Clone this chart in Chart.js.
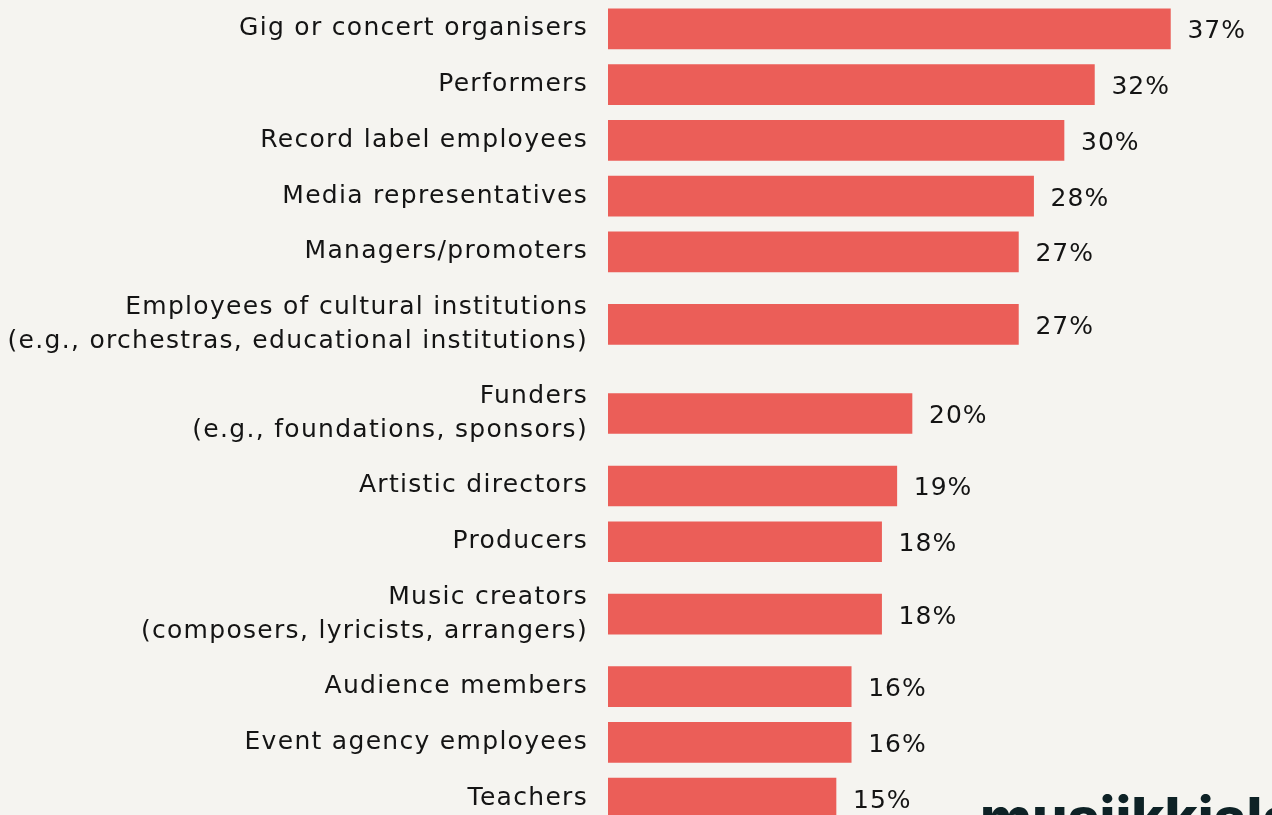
<!DOCTYPE html>
<html>
<head>
<meta charset="utf-8">
<script src="https://cdn.jsdelivr.net/npm/chart.js@4.4.1/dist/chart.umd.min.js"></script>
<style>
  html, body { margin: 0; padding: 0; background: #f5f4f0; overflow: hidden; }
  #wrap { position: relative; width: 1272px; height: 830px; }
</style>
</head>
<body>
<div id="wrap"><canvas id="chart"></canvas></div>
<script>
// Respondent groups (multi-line labels are given as arrays of lines)
const categories = [
  ["Gig or concert organisers"],
  ["Performers"],
  ["Record label employees"],
  ["Media representatives"],
  ["Managers/promoters"],
  ["Employees of cultural institutions", "(e.g., orchestras, educational institutions)"],
  ["Funders", "(e.g., foundations, sponsors)"],
  ["Artistic directors"],
  ["Producers"],
  ["Music creators", "(composers, lyricists, arrangers)"],
  ["Audience members"],
  ["Event agency employees"],
  ["Teachers"]
];

// Share of respondents, %
const shares = [37, 32, 30, 28, 27, 27, 20, 19, 18, 18, 16, 16, 15];

// Row slots: two-line labels get a taller row
const EXTRA_LINE = 0.6;
const rowHeights = categories.map(l => 1 + EXTRA_LINE * (l.length - 1));
const rowCenters = [];
let acc = 0;
rowHeights.forEach(h => { rowCenters.push(acc + h / 2); acc += h; });
const totalRows = acc;

const FONT = "'DejaVu Sans', sans-serif";
const INK = '#141414';

// wide tracking for all chart text
const tracking = {
  id: 'tracking',
  beforeDraw(chart) { chart.ctx.letterSpacing = '1.3px'; }
};

const valueLabels = {
  id: 'valueLabels',
  afterDatasetsDraw(chart) {
    const ctx = chart.ctx;
    const meta = chart.getDatasetMeta(0);
    ctx.save();
    ctx.letterSpacing = '1px';
    ctx.font = `25px ${FONT}`;
    ctx.fillStyle = INK;
    ctx.textAlign = 'left';
    ctx.textBaseline = 'middle';
    meta.data.forEach((bar, i) => {
      ctx.fillText(shares[i] + '%', bar.x + 17, bar.y + 3);
    });
    ctx.restore();
  }
};

const brand = {
  id: 'brand',
  afterDraw(chart) {
    const ctx = chart.ctx;
    ctx.save();
    ctx.letterSpacing = '0px';
    ctx.font = `800 56px 'Inter', sans-serif`;
    ctx.fillStyle = '#0e2226';
    ctx.textAlign = 'left';
    ctx.textBaseline = 'alphabetic';
    ctx.fillText('musiikkiala', 980, 838);
    ctx.restore();
  }
};

new Chart(document.getElementById('chart'), {
  type: 'bar',
  data: {
    datasets: [{
      data: shares.map((v, i) => ({ x: v, y: rowCenters[i] })),
      backgroundColor: '#eb5e58',
      borderWidth: 0,
      barThickness: 40
    }]
  },
  plugins: [tracking, valueLabels, brand],
  options: {
    indexAxis: 'y',
    responsive: true,
    maintainAspectRatio: false,
    animation: false,
    layout: { padding: { top: 1, right: 56, bottom: 4, left: 0 } },
    plugins: { legend: { display: false }, tooltip: { enabled: false } },
    scales: {
      x: {
        type: 'linear',
        min: 0,
        max: 40,
        display: false
      },
      y: {
        type: 'linear',
        reverse: true,
        offset: false,
        min: 0,
        max: totalRows,
        grid: { display: false, drawTicks: false, offset: false },
        border: { display: false },
        afterBuildTicks(scale) {
          scale.ticks = rowCenters.map(v => ({ value: v }));
        },
        afterFit(scale) {
          scale.width = 608;
          scale.paddingTop = 0;
          scale.paddingBottom = 0;
        },
        ticks: {
          autoSkip: false,
          padding: 20,
          color: INK,
          font: { family: FONT, size: 25, lineHeight: 1.36 },
          callback(value, index) {
            return categories[index];
          }
        }
      }
    }
  }
});
</script>
</body>
</html>
